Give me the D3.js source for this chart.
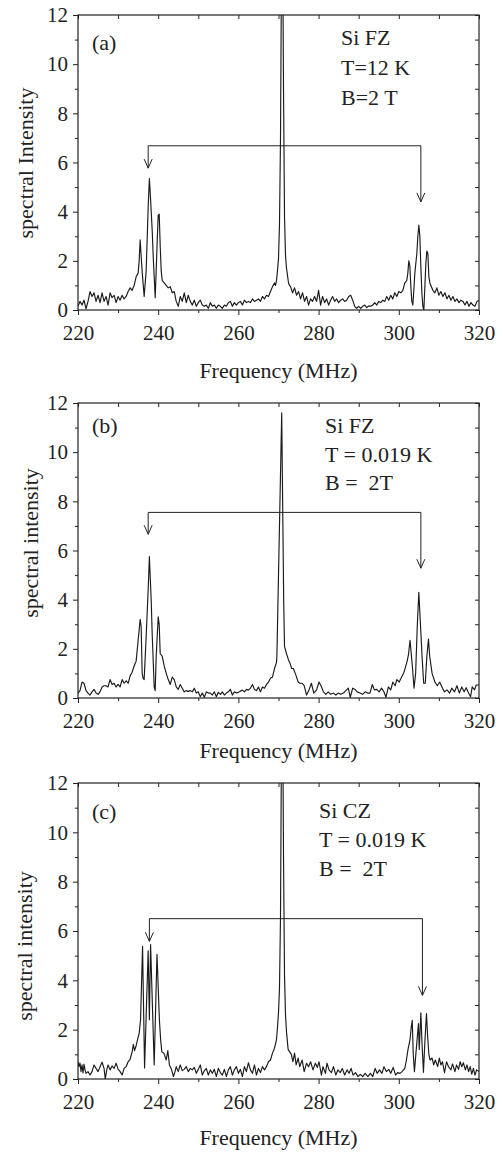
<!DOCTYPE html>
<html>
<head>
<meta charset="utf-8">
<script src="https://cdn.jsdelivr.net/npm/d3@7"></script>
<style>
body { margin: 0; background: #fff; }
text { font-family: "Liberation Serif", "Times New Roman", serif; fill: #222; }
</style>
</head>
<body>
<svg id="chart" width="503" height="1152"></svg>
<script>
// tick values
const xTicks = [220, 240, 260, 280, 300, 320]
const xMinor = [230, 250, 270, 290, 310]
const yTicks = [0, 2, 4, 6, 8, 10, 12]
const yMinor = [1, 3, 5, 7, 9, 11]

// labels
const letters = ['(a)', '(b)', '(c)']
const yTitles = ['spectral Intensity', 'spectral intensity', 'spectral intensity']
const notesA = ['Si FZ', 'T=12 K', 'B=2 T']
const notesB = ['Si FZ', 'T = 0.019 K', 'B =  2T']
const notesC = ['Si CZ', 'T = 0.019 K', 'B =  2T']

// arrow brackets [left freq, right freq, bar level, left tip, right tip]
const bracketA = [237.5, 305.5, 6.68, 5.77, 4.4]
const bracketB = [237.5, 305.5, 7.55, 6.66, 5.28]
const bracketC = [237.8, 305.9, 6.5, 5.58, 3.39]

// spectra [frequency MHz, intensity]
const spectrumA = [[220,0.15],[220.5,0.35],[221,0.2],[221.5,0.4],[222,0.05],[222.5,0.35],[223,0.75],[223.5,0.55],[224,0.7],[224.5,0.35],[225,0.6],[225.5,0.3],[226,0.7],[226.5,0.35],[227,0.55],[227.5,0.2],[228,0.7],[228.5,0.5],[229,0.6],[229.5,0.3],[230,0.55],[230.5,0.4],[231,0.6],[231.5,0.45],[232,0.55],[232.5,0.75],[233,0.9],[233.5,0.8],[234,1.0],[234.5,1.35],[235,1.5],[235.25,2.0],[235.5,2.85],[235.75,2.2],[236,1.55],[236.5,0.55],[237,1.6],[237.25,2.9],[237.5,4.2],[237.8,5.35],[238.1,4.5],[238.5,3.25],[238.75,2.2],[239,1.35],[239.25,0.5],[239.5,1.6],[239.75,2.8],[240,3.85],[240.25,3.9],[240.5,2.6],[240.75,1.6],[241,1.2],[241.5,1.1],[242,1.0],[242.5,0.9],[243,0.95],[243.5,0.7],[244,0.75],[244.5,0.35],[245,0.15],[245.5,0.55],[246,0.35],[246.5,0.7],[247,0.3],[247.5,0.6],[248,0.35],[248.5,0.2],[249,0.4],[249.5,0.15],[250,0.3],[250.5,0.4],[251,0.2],[251.5,0.15],[252,0.2],[252.5,0.07],[253,0.3],[253.5,0.15],[254,0.2],[254.5,0.07],[255,0.2],[255.5,0.15],[256,0.07],[256.5,0.2],[257,0.15],[257.5,0.3],[258,0.35],[258.5,0.15],[259,0.3],[259.5,0.2],[260,0.3],[260.5,0.35],[261,0.2],[261.5,0.4],[262,0.3],[262.5,0.35],[263,0.3],[263.5,0.45],[264,0.35],[264.5,0.4],[265,0.45],[265.5,0.35],[266,0.55],[266.5,0.45],[267,0.6],[267.5,0.55],[268,0.75],[268.5,0.95],[269,1.1],[269.25,1.0],[269.5,1.2],[269.75,1.6],[270,2.1],[270.25,3.5],[270.5,7.0],[270.75,14],[271,16],[271.25,9],[271.5,3.8],[271.75,2.2],[272,1.7],[272.25,1.4],[272.5,1.1],[272.75,1.0],[273,0.95],[273.5,0.7],[274,0.9],[274.5,0.6],[275,0.75],[275.5,0.45],[276,0.7],[276.5,0.35],[277,0.55],[277.5,0.2],[278,0.45],[278.5,0.35],[279,0.55],[279.5,0.35],[280,0.8],[280.5,0.2],[281,0.55],[281.5,0.3],[282,0.45],[282.5,0.2],[283,0.4],[283.5,0.55],[284,0.35],[284.5,0.45],[285,0.3],[285.5,0.4],[286,0.45],[286.5,0.35],[287,0.4],[287.5,0.55],[288,0.6],[288.5,0.4],[289,0.15],[289.5,0.07],[290,0.15],[290.5,0.07],[291,0.15],[291.5,0.2],[292,0.1],[292.5,0.17],[293,0.15],[293.5,0.2],[294,0.3],[294.5,0.2],[295,0.35],[295.5,0.3],[296,0.4],[296.5,0.35],[297,0.55],[297.5,0.4],[298,0.6],[298.5,0.45],[299,0.7],[299.5,0.55],[300,0.75],[300.5,0.7],[301,0.8],[301.5,1.1],[302,1.2],[302.25,1.5],[302.5,2.0],[302.75,1.8],[303,0.95],[303.25,0.35],[303.5,0.2],[303.75,0.8],[304,1.5],[304.5,2.3],[304.75,3.0],[305,3.45],[305.25,3.0],[305.5,1.75],[305.75,0.7],[306,0.15],[306.25,0],[306.5,0.95],[306.75,1.9],[307,2.4],[307.25,2.3],[307.5,1.35],[307.75,1.1],[308,1.0],[308.5,0.8],[309,0.7],[309.5,0.9],[310,0.6],[310.5,0.75],[311,0.55],[311.5,0.7],[312,0.45],[312.5,0.6],[313,0.4],[313.5,0.55],[314,0.35],[314.5,0.45],[315,0.3],[315.5,0.4],[316,0.35],[316.5,0.2],[317,0.35],[317.5,0.15],[318,0.3],[318.5,0.2],[319,0.15],[319.5,0.35],[320,0.4]]

const spectrumB = [[220,0.2],[220.5,0.3],[221,0.65],[221.5,0.6],[222,0.3],[222.5,0.2],[223,0.12],[223.5,0.25],[224,0.35],[224.5,0.2],[225,0.15],[225.5,0.25],[226,0.45],[226.5,0.5],[227,0.5],[227.5,0.45],[228,0.75],[228.5,0.55],[229,0.6],[229.5,0.45],[230,0.55],[230.5,0.45],[231,0.75],[231.5,0.6],[232,0.7],[232.5,0.6],[233,0.9],[233.5,1.05],[234,1.3],[234.5,1.5],[235,2.35],[235.5,3.2],[235.75,2.9],[236,1.0],[236.25,0.8],[236.5,0.75],[237,2.5],[237.5,4.4],[237.8,5.75],[238.25,4.0],[238.5,2.6],[239,0.45],[239.25,0.3],[239.5,1.7],[240,3.3],[240.25,3.0],[240.5,1.8],[241,1.7],[241.5,1.3],[242,1.0],[242.5,0.75],[243,0.55],[243.5,0.85],[244,0.75],[244.5,0.45],[245,0.35],[245.5,0.55],[246,0.4],[246.5,0.25],[247,0.3],[247.5,0.27],[248,0.3],[248.5,0.25],[249,0.4],[249.5,0.2],[250,0.25],[250.5,0.05],[251,0.2],[251.5,0.03],[252,0.25],[252.5,0.2],[253,0.2],[253.5,0.12],[254,0.25],[254.5,0.05],[255,0.23],[255.5,0.15],[256,0.25],[256.5,0.12],[257,0.2],[257.5,0.25],[258,0.35],[258.5,0.12],[259,0.25],[259.5,0.2],[260,0.23],[260.5,0.28],[261,0.32],[261.5,0.25],[262,0.35],[262.5,0.32],[263,0.4],[263.5,0.55],[264,0.35],[264.5,0.3],[265,0.45],[265.5,0.25],[266,0.45],[266.5,0.4],[267,0.55],[267.5,0.65],[268,0.8],[268.5,0.85],[269,1.2],[269.5,1.45],[269.6,1.7],[270.8,11.6],[271.3,3.9],[271.5,2.1],[272,1.8],[272.5,1.55],[272.9,1.4],[273.3,1.2],[273.7,1.2],[274.3,0.95],[274.9,0.65],[275.3,0.6],[275.9,0.6],[276.4,0.5],[277,0.12],[277.6,0.33],[278.2,0.6],[278.8,0.2],[279.5,0.33],[280.1,0.65],[280.6,0.5],[281.2,0.25],[281.8,0.15],[282.4,0.25],[283,0.15],[283.7,0.2],[284.3,0.12],[284.9,0.2],[285.5,0.15],[286.2,0.2],[286.9,0.32],[287.4,0.4],[287.9,0.03],[288.5,0.4],[289.1,0.35],[289.6,0.25],[290.3,0.2],[291,0.15],[291.6,0.25],[292.2,0.2],[292.8,0.2],[293.4,0.55],[293.9,0.33],[294.5,0.35],[295.1,0.25],[295.7,0.4],[296.3,0.25],[296.8,0.03],[297.4,0.45],[298,0.33],[298.5,0.65],[299.1,0.5],[299.5,0.75],[300.1,0.65],[300.7,0.85],[301.3,1.05],[302,1.45],[302.4,1.75],[302.8,2.35],[303.4,1.25],[303.8,0.4],[304.2,1.0],[304.6,2.9],[305,4.3],[305.4,3.0],[305.8,1.7],[306.2,0.6],[306.6,0.6],[307,1.7],[307.4,2.4],[307.7,1.7],[308.3,1.0],[309,0.65],[309.6,0.5],[310.2,0.65],[310.9,0.4],[311.4,0.25],[312,0.33],[312.7,0.2],[313.2,0.4],[313.9,0.25],[314.5,0.5],[315.1,0.2],[315.7,0.45],[316.3,0.25],[316.8,0.42],[317.4,0.2],[317.9,0.05],[318.3,0.45],[318.9,0.33],[319.3,0.53],[320,0.53]]

const spectrumC = [[220,0.7],[220.25,0.5],[220.5,0.65],[220.75,0.3],[221,0.57],[221.25,0.25],[221.5,0.6],[221.75,0.37],[222,0.23],[222.5,0.3],[223,0.16],[223.5,0.3],[224,0.57],[224.5,0.43],[225,0.3],[225.5,0.5],[226,0.68],[226.5,0.43],[226.8,0.0],[227.2,0.4],[227.5,0.57],[228,0.37],[228.5,0.53],[229,0.43],[229.5,0.64],[230,0.4],[230.5,0.3],[231,0.16],[231.5,0.43],[232,0.5],[232.5,0.7],[233,0.8],[233.5,1.1],[233.8,1.4],[234.1,1.15],[234.5,1.35],[235,1.7],[235.25,1.85],[235.6,2.4],[236.1,5.38],[236.6,0.45],[237.5,5.2],[237.8,2.4],[238.1,5.45],[239,0.57],[239.7,5.05],[240.3,2.4],[240.6,1.6],[240.9,1.1],[241.4,1.05],[242,0.77],[242.4,1.15],[242.8,0.57],[243.3,0.4],[243.8,0.1],[244.2,0.3],[244.5,0.5],[245,0.3],[245.5,0.57],[246,0.34],[246.5,0.39],[247,0.5],[247.5,0.3],[248,0.43],[248.5,0.37],[249,0.47],[249.5,0.23],[250,0.39],[250.5,0.57],[251,0.16],[251.5,0.33],[252,0.43],[252.5,0.16],[253,0.37],[253.5,0.23],[254,0.39],[254.5,0.1],[255,0.43],[255.5,0.26],[256,0.16],[256.5,0.39],[257,0.1],[257.5,0.37],[258,0.5],[258.5,0.16],[259,0.37],[259.5,0.5],[260,0.23],[260.5,0.39],[261,0.1],[261.5,0.5],[262,0.3],[262.5,0.66],[263,0.37],[263.5,0.23],[264,0.57],[264.5,0.16],[265,0.43],[265.5,0.26],[266,0.5],[266.5,0.37],[267,0.5],[267.5,0.7],[268,0.77],[268.5,1.05],[269,1.25],[269.5,1.6],[269.75,2.1],[270,2.7],[270.25,3.7],[270.5,6.6],[270.75,14],[271,16],[271.25,9],[271.5,4.2],[271.75,2.6],[272,1.9],[272.4,1.2],[272.8,1.1],[273.2,1.0],[273.6,0.7],[274,1.05],[274.4,0.57],[274.9,0.85],[275.3,0.5],[275.9,0.77],[276.4,0.3],[277,0.64],[277.5,0.5],[278,0.7],[278.6,0.37],[279.2,0.64],[279.7,0.47],[280.1,0.7],[280.7,0.16],[281.1,0.5],[281.7,0.23],[282.1,0.64],[282.6,0.37],[283.2,0.26],[283.7,0.5],[284.3,0.16],[284.8,0.37],[285.4,0.26],[285.9,0.43],[286.5,0.16],[287.1,0.37],[287.6,0.23],[288.1,0.43],[288.6,0.16],[289.2,0.26],[289.8,0.1],[290.4,0.19],[291,0.1],[291.6,0.23],[292.3,0.1],[292.9,0.23],[293.5,0.1],[294.1,0.43],[294.6,0.23],[295.2,0.37],[295.8,0.23],[296.3,0.5],[296.9,0.3],[297.5,0.39],[298,0.23],[298.6,0.47],[299.2,0.16],[299.7,0.26],[300.3,0.23],[300.8,0.3],[301.5,0.43],[301.9,0.77],[302.3,1.2],[302.8,1.6],[303.1,2.1],[303.35,2.38],[303.6,1.0],[303.9,0.3],[304.3,1.1],[304.9,2.25],[305.1,1.2],[305.5,2.68],[305.8,1.4],[306.15,0.27],[306.5,1.5],[306.9,2.65],[307.2,1.7],[307.5,1.0],[307.8,0.77],[308.3,0.85],[308.7,0.57],[309.1,0.77],[309.7,0.5],[310.1,0.85],[310.5,0.57],[310.9,0.7],[311.4,0.26],[311.9,0.7],[312.4,0.5],[313,0.37],[313.4,0.61],[314,0.3],[314.4,0.57],[314.9,0.39],[315.3,0.7],[315.7,0.5],[316.1,0.66],[316.6,0.37],[317,0.57],[317.4,0.3],[317.8,0.5],[318.2,0.2],[318.6,0.43],[319,0.16],[319.4,0.37],[320,0.3]]

// layout of the three stacked panels
const panels = [
    { top: 15, bottom: 310, data: spectrumA, notes: notesA, bracket: bracketA,
      letterY: 50, noteX: 341, noteY: 45, noteGap: 30, titleX: 33, titleY: 163, xlabY: 378 },
    { top: 403, bottom: 698, data: spectrumB, notes: notesB, bracket: bracketB,
      letterY: 433, noteX: 325, noteY: 433, noteGap: 28.5, titleX: 38, titleY: 543, xlabY: 758 },
    { top: 783, bottom: 1079, data: spectrumC, notes: notesC, bracket: bracketC,
      letterY: 819, noteX: 319, noteY: 818, noteGap: 29, titleX: 32, titleY: 946, xlabY: 1145 }
]

const left = 78, right = 479
const fs = 22       // labels and notes
const tickFs = 21   // tick numbers
const ink = '#222'

const svg = d3.select('#chart')
const x = d3.scaleLinear().domain([220, 320]).range([left, right])

function styleAxis(sel) {
    sel.select('.domain').remove()
    sel.selectAll('.tick line').attr('stroke', ink).attr('stroke-width', 1)
    sel.selectAll('text')
        .attr('font-family', null)
        .style('font-size', tickFs + 'px')
        .attr('fill', ink)
}

panels.forEach((p, i) => {
    const y = d3.scaleLinear().domain([0, 12]).range([p.bottom, p.top])
    const g = svg.append('g')

    svg.append('clipPath').attr('id', 'clip' + i)
        .append('rect')
        .attr('x', left).attr('y', p.top)
        .attr('width', right - left).attr('height', p.bottom - p.top)

    // bottom axis (outward)
    g.append('g').attr('transform', `translate(0,${p.bottom})`)
        .call(d3.axisBottom(x).tickValues(xMinor).tickSize(3).tickFormat(''))
        .call(styleAxis)
    g.append('g').attr('transform', `translate(0,${p.bottom})`)
        .call(d3.axisBottom(x).tickValues(xTicks).tickSize(5).tickPadding(10).tickFormat(d3.format('d')))
        .call(styleAxis)
    // top axis (inward)
    g.append('g').attr('transform', `translate(0,${p.top})`)
        .call(d3.axisBottom(x).tickValues(xMinor.concat(xTicks)).tickSize(4).tickFormat(''))
        .call(styleAxis)
    // left axis (outward)
    g.append('g').attr('transform', `translate(${left},0)`)
        .call(d3.axisLeft(y).tickValues(yMinor).tickSize(3).tickFormat(''))
        .call(styleAxis)
    g.append('g').attr('transform', `translate(${left},0)`)
        .call(d3.axisLeft(y).tickValues(yTicks).tickSize(5).tickPadding(5).tickFormat(d3.format('d')))
        .call(styleAxis)
    // right axis (inward)
    g.append('g').attr('transform', `translate(${right},0)`)
        .call(d3.axisLeft(y).tickValues(yMinor.concat(yTicks)).tickSize(4).tickFormat(''))
        .call(styleAxis)

    // frame
    g.append('rect')
        .attr('x', left).attr('y', p.top)
        .attr('width', right - left).attr('height', p.bottom - p.top)
        .attr('fill', 'none').attr('stroke', ink).attr('stroke-width', 1.2)

    // spectrum
    const line = d3.line().x(d => x(d[0])).y(d => y(d[1]))
    g.append('path')
        .attr('d', line(p.data))
        .attr('clip-path', `url(#clip${i})`)
        .attr('fill', 'none')
        .attr('stroke', '#1a1a1a')
        .attr('stroke-width', 1.15)
        .attr('stroke-linejoin', 'round')

    // bracket with open arrowheads
    const [f1, f2, lvl, t1, t2] = p.bracket
    g.append('path')
        .attr('d', `M${x(f1)},${y(t1)}V${y(lvl)}H${x(f2)}V${y(t2)}`)
        .attr('fill', 'none').attr('stroke', ink).attr('stroke-width', 1)
    ;[[f1, t1], [f2, t2]].forEach(([f, t]) => {
        const ax = x(f), ay = y(t)
        g.append('path')
            .attr('d', `M${ax - 4},${ay - 9}L${ax},${ay}L${ax + 4},${ay - 9}`)
            .attr('fill', 'none').attr('stroke', ink).attr('stroke-width', 1)
    })

    // panel letter and notes
    g.append('text').attr('x', 92).attr('y', p.letterY)
        .style('font-size', fs + 'px').text(letters[i])
    g.selectAll('.note').data(p.notes).enter().append('text')
        .attr('x', p.noteX)
        .attr('y', (d, k) => p.noteY + k * p.noteGap)
        .style('font-size', fs + 'px')
        .style('white-space', 'pre')
        .text(d => d)

    // axis titles
    g.append('text')
        .attr('transform', `translate(${p.titleX},${p.titleY}) rotate(-90)`)
        .attr('text-anchor', 'middle')
        .style('font-size', fs + 'px')
        .text(yTitles[i])
    g.append('text')
        .attr('x', (left + right) / 2).attr('y', p.xlabY)
        .attr('text-anchor', 'middle')
        .style('font-size', fs + 'px')
        .text('Frequency (MHz)')
})
</script>
</body>
</html>
